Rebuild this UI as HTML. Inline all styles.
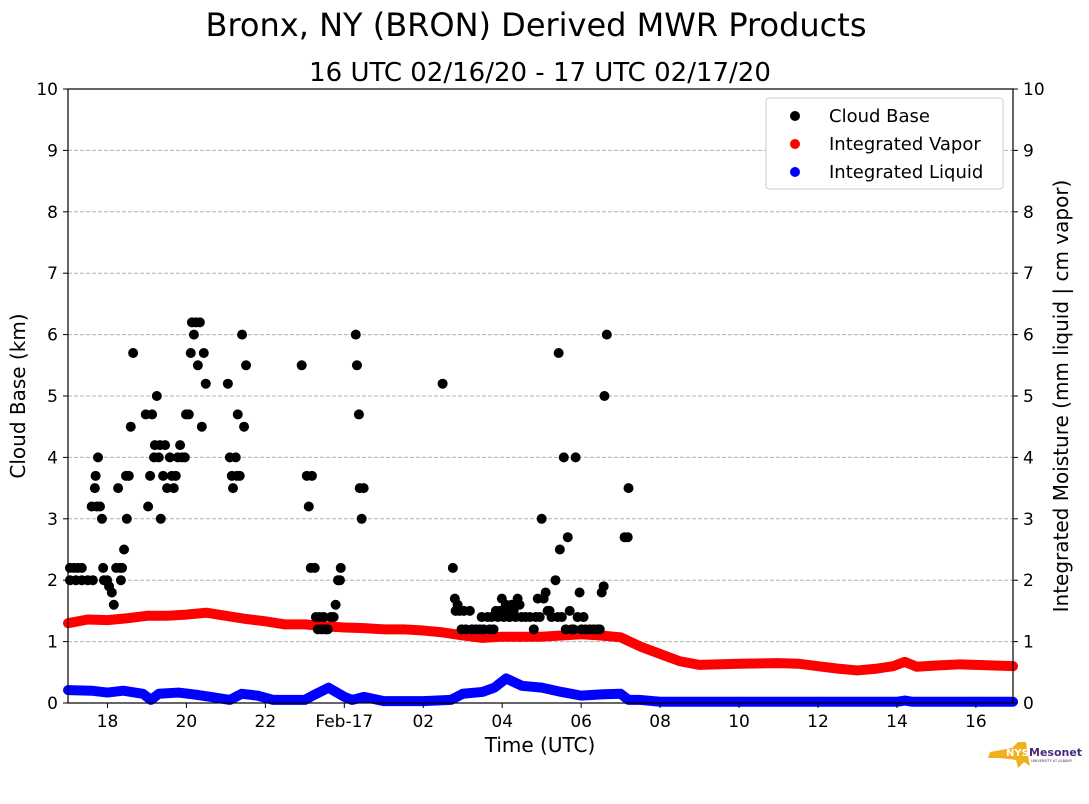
<!DOCTYPE html>
<html><head><meta charset="utf-8"><style>
body{margin:0;background:#fff;}
svg{display:block;font-family:"DejaVu Sans","Liberation Sans",sans-serif;}
</style></head><body>
<svg id="chart" width="1089" height="804">
<text x="536" y="36" font-size="32" text-anchor="middle">Bronx, NY (BRON) Derived MWR Products</text>
<text x="540" y="81" font-size="26" text-anchor="middle">16 UTC 02/16/20 - 17 UTC 02/17/20</text>
<g id="grid"></g>
<g id="marks"></g>
<g id="axes"></g>
<rect x="68" y="89" width="945" height="614" fill="none" stroke="#000" stroke-width="1.2"/>
<text x="25" y="396" font-size="20" text-anchor="middle" transform="rotate(-90 25 396)">Cloud Base (km)</text>
<text x="1068" y="396" font-size="20" text-anchor="middle" transform="rotate(-90 1068 396)">Integrated Moisture (mm liquid | cm vapor)</text>
<text x="540" y="752" font-size="20" text-anchor="middle">Time (UTC)</text>
<g>
<rect x="766" y="98" width="237" height="91" rx="3" fill="#fff" stroke="#ccc"/>
<circle cx="795" cy="116" r="5" fill="#000"/>
<text x="829" y="122" font-size="18">Cloud Base</text>
<circle cx="795" cy="144" r="5" fill="#f00"/>
<text x="829" y="150" font-size="18">Integrated Vapor</text>
<circle cx="795" cy="172" r="5" fill="#00f"/>
<text x="829" y="178" font-size="18">Integrated Liquid</text>
</g>
<g>
<path d="M990 752 L1012 748 L1018 742 L1026 742 L1028 756 L1030 766 L1024 762 L1018 768 L1016 760 L1000 758 L988 758 Z" fill="#f0b020"/>
<text x="1006" y="756" font-size="10" font-weight="bold" fill="#fff">NYS</text>
<text x="1029" y="756" font-size="11" font-weight="bold" fill="#4b2a7b">Mesonet</text>
<text x="1031" y="762" font-size="3.5" fill="#4b2a7b">UNIVERSITY AT ALBANY</text>
</g>
</svg>
<script>
// Offset hours since 17 UTC 02/16
const cloudT=[0.05,0.15,0.25,0.35,0.05,0.2,0.35,0.5,0.63,0.6,0.68,0.7,0.76,0.73,0.81,0.86,0.89,0.91,0.99,1.04,1.11,1.16,1.22,1.27,1.32,1.34,1.37,1.42,1.47,1.49,1.54,1.59,1.65,2.03,1.97,2.08,2.13,2.18,2.2,2.25,2.3,2.35,2.33,2.41,2.46,2.51,2.58,2.63,2.68,2.73,2.78,2.84,2.89,2.96,2.99,3.06,3.11,3.14,3.19,3.24,3.29,3.34,3.39,3.44,3.49,4.05,4.1,4.15,4.18,4.25,4.28,4.3,4.35,4.41,4.46,4.51,5.92,6.05,6.1,6.15,6.18,6.25,6.28,6.33,6.38,6.43,6.48,6.53,6.58,6.66,6.73,6.78,6.84,6.89,6.91,7.29,7.32,7.37,7.39,7.44,7.49,9.49,9.75,9.8,9.82,9.87,9.92,9.97,10.03,10.08,10.18,10.23,10.33,10.43,10.48,10.53,10.63,10.68,10.73,10.78,10.84,10.89,10.94,10.99,11.04,11.09,11.14,11.19,11.24,11.29,11.34,11.39,11.44,11.49,11.59,11.7,11.8,11.85,11.9,11.95,12,12.05,12.1,12.15,12.2,12.25,12.35,12.41,12.43,12.46,12.51,12.56,12.61,12.66,12.71,12.76,12.81,12.86,12.91,12.96,13.01,13.06,13.11,13.22,13.32,13.42,13.47,13.52,13.57,13.59,13.65,14.1,14.18,14.2];
const cloudKm=[2.2,2.2,2.2,2.2,2,2,2,2,2,3.2,3.5,3.7,4,3.2,3.2,3,2.2,2,2,1.9,1.8,1.6,2.2,3.5,2.2,2,2.2,2.5,3.7,3,3.7,4.5,5.7,3.2,4.7,3.7,4.7,4,4.2,5,4,3,4.2,3.7,4.2,3.5,4,3.7,3.5,3.7,4,4.2,4,4,4.7,4.7,5.7,6.2,6,6.2,5.5,6.2,4.5,5.7,5.2,5.2,4,3.7,3.5,4,3.7,4.7,3.7,6,4.5,5.5,5.5,3.7,3.2,2.2,3.7,2.2,1.4,1.2,1.4,1.2,1.4,1.2,1.2,1.4,1.4,1.6,2,2,2.2,6,5.5,4.7,3.5,3,3.5,5.2,2.2,1.7,1.5,1.6,1.5,1.2,1.5,1.2,1.5,1.2,1.2,1.2,1.4,1.2,1.4,1.2,1.4,1.2,1.5,1.4,1.5,1.7,1.4,1.6,1.5,1.4,1.6,1.5,1.4,1.7,1.6,1.4,1.4,1.4,1.2,1.4,1.7,1.4,3,1.7,1.8,1.5,1.5,1.4,2,1.4,5.7,2.5,1.4,4,1.2,2.7,1.5,1.2,1.2,4,1.4,1.8,1.2,1.4,1.2,1.2,1.2,1.2,1.2,1.8,1.9,5,6,2.7,2.7,3.5];
const vaporT=[0,0.5,1,1.5,2,2.5,3,3.5,4,4.5,5,5.5,6,6.5,7,7.5,8,8.5,9,9.5,10,10.5,11,11.5,12,12.5,13,13.5,14,14.5,15,15.5,16,17,18,18.5,19,19.5,20,20.5,20.9,21.2,21.5,22,22.6,23.94];
const vaporV=[1.3,1.36,1.35,1.38,1.42,1.42,1.44,1.47,1.42,1.37,1.33,1.28,1.28,1.25,1.23,1.22,1.2,1.2,1.18,1.15,1.1,1.06,1.08,1.08,1.08,1.1,1.12,1.1,1.07,0.92,0.8,0.68,0.62,0.64,0.65,0.64,0.6,0.56,0.53,0.56,0.6,0.67,0.59,0.61,0.63,0.6];
const liquidT=[0,0.6,1,1.4,1.9,2.1,2.3,2.8,3.3,3.6,4.1,4.4,4.8,5.2,6,6.2,6.6,7,7.2,7.5,8,9,9.7,10,10.5,10.8,11.1,11.5,12,12.5,13,13.5,14,14.2,14.5,15,21,21.2,21.4,23.94];
const liquidV=[0.21,0.2,0.17,0.2,0.15,0.05,0.15,0.17,0.13,0.1,0.05,0.15,0.12,0.05,0.05,0.12,0.25,0.1,0.05,0.1,0.03,0.03,0.05,0.15,0.18,0.25,0.4,0.28,0.25,0.18,0.12,0.14,0.15,0.05,0.05,0.02,0.02,0.04,0.02,0.02];
const xTickT=[1,3,5,7,9,11,13,15,17,19,21,23];
const xTickLabels=["18","20","22","Feb-17","02","04","06","08","10","12","14","16"];
const yTicks=[0,1,2,3,4,5,6,7,8,9,10];

const X0=68,X1=1013,Y0=703,Y1=89,TMAX=23.94,VMAX=10;
const sx=t=>X0+(t/TMAX)*(X1-X0);
const sy=v=>Y0-(v/VMAX)*(Y0-Y1);
const NS="http://www.w3.org/2000/svg";
function mk(tag,attrs,parent){const e=document.createElementNS(NS,tag);for(const k in attrs)e.setAttribute(k,attrs[k]);parent.appendChild(e);return e;}
const grid=document.getElementById('grid'),marks=document.getElementById('marks'),axes=document.getElementById('axes');
yTicks.forEach(v=>{
  if(v>0&&v<10){const l=mk('line',{x1:X0,x2:X1,y1:sy(v),y2:sy(v),stroke:'#b0b0b0','stroke-dasharray':'4,2','stroke-width':1},grid);
  
  }
  mk('line',{x1:X0-5,x2:X0,y1:sy(v),y2:sy(v),stroke:'#000'},axes);
  mk('line',{x1:X1,x2:X1+5,y1:sy(v),y2:sy(v),stroke:'#000'},axes);
  const tl=mk('text',{x:X0-10,y:sy(v)+6,'font-size':17,'text-anchor':'end'},axes);tl.textContent=v;
  
  
  const tr=mk('text',{x:X1+10,y:sy(v)+6,'font-size':17},axes);tr.textContent=v;
  
  
});
xTickT.forEach((t,i)=>{
  mk('line',{x1:sx(t),x2:sx(t),y1:Y0,y2:Y0+5,stroke:'#000'},axes);
  const tx=mk('text',{x:sx(t),y:Y0+24,'font-size':17,'text-anchor':'middle'},axes);tx.textContent=xTickLabels[i];
  
  
});
function line(T,V,color,name){
  const p=mk('polyline',{points:T.map((t,i)=>sx(t)+','+sy(V[i])).join(' '),fill:'none',stroke:color,'stroke-width':10,'stroke-linejoin':'round','stroke-linecap':'round'},marks);
  
  
}
line(vaporT,vaporV,'#f00','integrated-vapor-line');
line(liquidT,liquidV,'#00f','integrated-liquid-line');
cloudT.forEach((t,i)=>{
  const c=mk('circle',{cx:sx(t),cy:sy(cloudKm[i]),r:5,fill:'#000'},marks);
  
  
});
</script>
</body></html>
